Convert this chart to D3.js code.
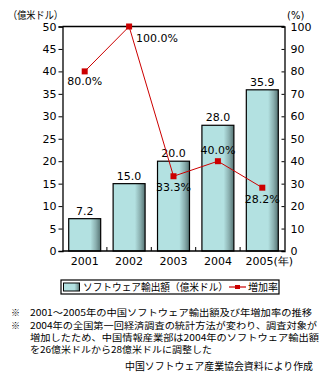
<!DOCTYPE html>
<html><head><meta charset="utf-8">
<script src="https://cdn.jsdelivr.net/npm/d3@7"></script>
<style>body{margin:0;background:#fff}svg{display:block}</style>
</head><body><svg id="c" width="330" height="383"></svg>
<script>
const years = ["2001","2002","2003","2004","2005"];
const exportValues = [7.2, 15.0, 20.0, 28.0, 35.9];
const growthRates = [80.0, 100.0, 33.3, 40.0, 28.2];
const leftTicks = [0,5,10,15,20,25,30,35,40,45,50];
const rightTicks = [0,10,20,30,40,50,60,70,80,90,100];
const notes = [
  "2001～2005年の中国ソフトウェア輸出額及び年増加率の推移",
  "2004年の全国第一回経済調査の統計方法が変わり、調査対象が",
  "増加したため、中国情報産業部は2004年のソフトウェア輸出額",
  "を26億米ドルから28億米ドルに調整した"
];
const source = "中国ソフトウェア産業協会資料により作成";

const svg = d3.select("#c");
const font = "'DejaVu Sans', sans-serif";
const jfont = "'Noto Sans CJK JP', sans-serif";
const L = 62.5, R = 284.5, T = 26.5, B = 251;
const x = d3.scaleBand().domain(years).range([L, R]).paddingInner(0.28).paddingOuter(0.14);
const yL = d3.scaleLinear().domain([0, 50]).range([B, T]);
const yR = d3.scaleLinear().domain([0, 100]).range([B, T]);

const defs = svg.append("defs");
const g = defs.append("linearGradient").attr("id","bg").attr("x1","0").attr("x2","1").attr("y1","0").attr("y2","0");
g.append("stop").attr("offset","0").attr("stop-color","#b3e1e1");
g.append("stop").attr("offset","0.68").attr("stop-color","#b3e1e1");
g.append("stop").attr("offset","0.85").attr("stop-color","#8aafaf");
g.append("stop").attr("offset","1").attr("stop-color","#557373");

// bars
svg.append("g").selectAll("rect").data(years).join("rect")
  .attr("x", d => x(d)).attr("width", x.bandwidth())
  .attr("y", (d,i) => yL(exportValues[i])).attr("height", (d,i) => B - yL(exportValues[i]))
  .attr("fill","url(#bg)").attr("stroke","#000").attr("stroke-width",1.2);

// frame
svg.append("path").attr("d", `M${L},${T}H${R}`).attr("stroke","#000").attr("stroke-width",1.3).attr("fill","none");

// axes
const axL = d3.axisLeft(yL).tickValues(leftTicks).tickSize(4).tickPadding(2);
const gL = svg.append("g").attr("transform",`translate(${L},0)`).call(axL);
const axR = d3.axisRight(yR).tickValues(rightTicks).tickSize(-3).tickPadding(6);
const gR = svg.append("g").attr("transform",`translate(${R},0)`).call(axR);
const axB = d3.axisBottom(x).tickSize(0).tickPadding(6).tickFormat((d) => d === "2005" ? "2005(年)" : d);
const gB = svg.append("g").attr("transform",`translate(0,${B})`).call(axB);
[gL,gR,gB].forEach(a => {
  a.select(".domain").attr("stroke","#000").attr("stroke-width",1.3);
  a.selectAll(".tick line").attr("stroke","#000");
  a.selectAll("text").attr("font-family",font).attr("font-size",11).attr("fill","#000");
});
gB.select(".domain").attr("d", `M${L},0H${R}`);
gB.selectAll(".tick").filter(d => d === "2005").select("text").attr("dx", 7);
// inner separator ticks on x axis
svg.append("g").selectAll("line").data(years.slice(0,4)).join("line")
  .attr("x1", d => x(d) + x.bandwidth() + x.step()*x.paddingInner()/2)
  .attr("x2", d => x(d) + x.bandwidth() + x.step()*x.paddingInner()/2)
  .attr("y1", B).attr("y2", B-4).attr("stroke","#000");

// axis titles
svg.append("text").attr("x",8).attr("y",19).attr("font-family",jfont).attr("font-size",10.5).text("（億米ドル）")
  .attr("textLength",55).attr("lengthAdjust","spacingAndGlyphs");
svg.append("text").attr("x",287).attr("y",19).attr("font-family",font).attr("font-size",10).text("(%)");

// bar labels
svg.append("g").selectAll("text").data(years).join("text")
  .attr("x", d => x(d) + x.bandwidth()/2).attr("y", (d,i) => yL(exportValues[i]) - 4)
  .attr("text-anchor","middle").attr("font-family",font).attr("font-size",11)
  .text((d,i) => exportValues[i].toFixed(1));

// line
const cx = d => x(d) + x.bandwidth()/2;
svg.append("path").datum(years)
  .attr("d", d3.line().x(d => cx(d)).y((d,i) => yR(growthRates[i])))
  .attr("fill","none").attr("stroke","#cc0000").attr("stroke-width",1);
svg.append("g").selectAll("rect").data(years).join("rect")
  .attr("x", d => cx(d) - 3).attr("y", (d,i) => yR(growthRates[i]) - 3)
  .attr("width",6).attr("height",6).attr("fill","#cc0000");
const lblOff = [[0,14],[28,15],[0,15],[0,-7],[0,15]];
svg.append("g").selectAll("text").data(years).join("text")
  .attr("x", (d,i) => cx(d) + lblOff[i][0]).attr("y", (d,i) => yR(growthRates[i]) + lblOff[i][1])
  .attr("text-anchor","middle").attr("font-family",font).attr("font-size",11)
  .text((d,i) => growthRates[i].toFixed(1) + "%");

// legend
const lg = svg.append("g");
lg.append("rect").attr("x",61).attr("y",280).attr("width",218).attr("height",14).attr("fill","#fff").attr("stroke","#000").attr("stroke-width",1.2);
lg.append("rect").attr("x",63.5).attr("y",283).attr("width",16).attr("height",8).attr("fill","url(#bg)").attr("stroke","#000");
lg.append("text").attr("x",83).attr("y",291).attr("font-family",jfont).attr("font-size",10)
  .text("ソフトウェア輸出額（億米ドル）").attr("textLength",145).attr("lengthAdjust","spacingAndGlyphs");
lg.append("line").attr("x1",229).attr("x2",246).attr("y1",287).attr("y2",287).attr("stroke","#cc0000").attr("stroke-width",1.2);
lg.append("rect").attr("x",235).attr("y",285).attr("width",5).attr("height",4).attr("fill","#cc0000");
lg.append("text").attr("x",248).attr("y",291).attr("font-family",jfont).attr("font-size",10)
  .text("増加率").attr("textLength",30).attr("lengthAdjust","spacingAndGlyphs");

// notes
const noteY = [316, 329, 341, 353];
const noteW = [282, 287, 289, 182];
svg.append("g").selectAll("text").data(notes).join("text")
  .attr("x",30).attr("y",(d,i) => noteY[i]).attr("font-family",jfont).attr("font-size",9)
  .attr("textLength",(d,i) => noteW[i]).attr("lengthAdjust","spacingAndGlyphs").text(d => d);
svg.append("g").selectAll("text").data([0,1]).join("text")
  .attr("x",11).attr("y",(d,i) => noteY[i]).attr("font-family",jfont).attr("font-size",9).text("※");
svg.append("text").attr("x",125).attr("y",370).attr("font-family",jfont).attr("font-size",10)
  .attr("textLength",188).attr("lengthAdjust","spacingAndGlyphs").text(source);
</script></body></html>
